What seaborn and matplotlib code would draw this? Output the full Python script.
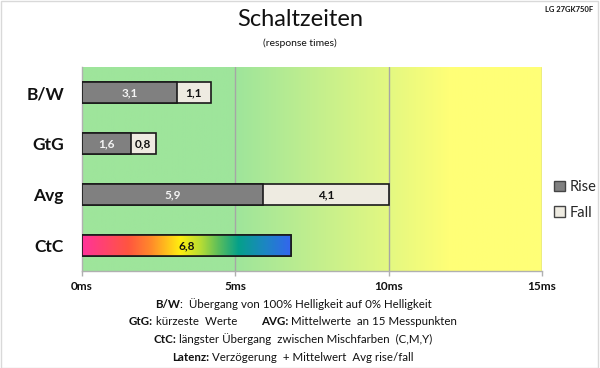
"""Response time chart (Schaltzeiten) for the LG 27GK750F."""

import matplotlib

matplotlib.use("Agg")

import matplotlib.pyplot as plt
import numpy as np
import pandas as pd
import seaborn as sns
from matplotlib.colors import LinearSegmentedColormap
from matplotlib.patches import Patch, Rectangle

categories = ["B/W", "GtG", "Avg", "CtC"]
rise = [3.1, 1.6, 5.9, 6.8]
fall = [1.1, 0.8, 4.1, 0.0]
x_ticks = [0, 5, 10, 15]
x_tick_labels = ["0ms", "5ms", "10ms", "15ms"]

RISE_COLOR = "#808080"
FALL_COLOR = "#eeebe1"
FONT = "Lato"

# (text, bold) pieces for each footer line
footer_lines = [
    [("B/W", True), (":  Übergang von 100% Helligkeit auf 0% Helligkeit", False)],
    [("GtG:", True), (" kürzeste  Werte        ", False), ("AVG:", True),
     (" Mittelwerte  an 15 Messpunkten", False)],
    [("CtC:", True), (" längster Übergang  zwischen Mischfarben  (C,M,Y)", False)],
    [("Latenz:", True), (" Verzögerung  + Mittelwert  Avg rise/fall", False)],
]


def draw_mixed_line(fig, renderer, pieces, x_center, y, size):
    texts = [fig.text(0, y, s, fontsize=size, fontweight="bold" if b else "normal",
                      va="center", ha="left", color="#111111") for s, b in pieces]
    widths = [t.get_window_extent(renderer).width for t in texts]
    x = x_center * fig.bbox.width - sum(widths) / 2
    for t, w in zip(texts, widths):
        t.set_x(x / fig.bbox.width)
        x += w


def main() -> None:
    sns.set_theme(style="white")
    plt.rcParams["font.family"] = [FONT, "DejaVu Sans"]

    df = pd.DataFrame({"cat": categories, "rise": rise, "fall": fall})
    df["total"] = df["rise"] + df["fall"]

    fig = plt.figure(figsize=(6, 3.68), dpi=100)
    ax = fig.add_axes([82 / 600, 1 - 271 / 368, 460 / 600, 204 / 368])

    sns.barplot(data=df, x="total", y="cat", color=FALL_COLOR, orient="h",
                width=0.42, edgecolor="#1a1a1a", linewidth=1.2, saturation=1,
                ax=ax, zorder=3)
    sns.barplot(data=df, x="rise", y="cat", color=RISE_COLOR, orient="h",
                width=0.42, edgecolor="#1a1a1a", linewidth=1.2, saturation=1,
                ax=ax, zorder=3)

    # background: green fading to yellow
    bg = LinearSegmentedColormap.from_list(
        "bg", [(0, "#9ee59b"), (5 / 15, "#9ee59b"), (12 / 15, "#ffff77"), (1, "#ffff77")])
    ax.imshow(np.linspace(0, 1, 512)[None, :], cmap=bg, aspect="auto",
              extent=(0, 15, 3.5, -0.5), zorder=0)

    # CtC bar gets a rainbow fill
    ctc_bar = ax.containers[1][3]
    rainbow = LinearSegmentedColormap.from_list(
        "ctc", [(0, "#ff3399"), (0.22, "#ff5540"), (0.33, "#ff8a2a"),
                (0.47, "#ffee10"), (0.57, "#b5dc35"), (0.65, "#5fbf5a"),
                (0.75, "#05a08a"), (0.87, "#1b88c0"), (1, "#3366ee")])
    img = ax.imshow(np.linspace(0, 1, 512)[None, :], cmap=rainbow, aspect="auto",
                    extent=(0, rise[3], 3.5, -0.5), zorder=3.5)
    img.set_clip_path(ctc_bar)
    ctc_bar.set_facecolor("none")
    ctc_bar.set_zorder(4)

    # value labels
    for i, (r, f) in enumerate(zip(rise, fall)):
        color = "#111111" if categories[i] == "CtC" else "#f4f4f4"
        ax.text(r / 2, i, f"{r:.1f}".replace(".", ","), ha="center", va="center",
                fontsize=8.5, fontweight="bold", color=color, zorder=5)
        if f > 0:
            ax.text(r + f / 2, i, f"{f:.1f}".replace(".", ","), ha="center",
                    va="center", fontsize=8.5, fontweight="bold", color="#111111", zorder=5)

    ax.set_xlim(0, 15)
    ax.set_ylim(3.5, -0.5)
    ax.set_xticks(x_ticks)
    ax.set_xticklabels(x_tick_labels, fontsize=8.5, fontweight="bold", color="#111111")
    for x in x_ticks[1:]:
        ax.axvline(x, color="#a6a6a6", linewidth=1, zorder=1)
    ax.set_yticks(range(len(categories)))
    ax.set_yticklabels(categories, fontsize=12.5, fontweight="bold", color="#111111")
    ax.set_yticks(np.arange(-0.5, len(categories)), minor=True)
    ax.tick_params(axis="y", which="major", length=0, pad=13)
    ax.tick_params(axis="y", which="minor", length=4.5, color="#b0b0b0", width=1)
    ax.tick_params(axis="x", which="major", length=3.5, color="#b0b0b0", width=1,
                   bottom=True, pad=4)
    ax.set_xlabel("")
    ax.set_ylabel("")
    for side in ["top", "right"]:
        ax.spines[side].set_visible(False)
    for side in ["left", "bottom"]:
        ax.spines[side].set_color("#b0b0b0")
        ax.spines[side].set_linewidth(1)

    handles = [Patch(facecolor=RISE_COLOR, edgecolor="#444444", label="Rise"),
               Patch(facecolor=FALL_COLOR, edgecolor="#444444", label="Fall")]
    fig.legend(handles=handles, loc="center left", bbox_to_anchor=(548 / 600, 1 - 200 / 368),
               frameon=False, fontsize=10.5, handlelength=0.75, handleheight=0.75,
               handletextpad=0.3, labelspacing=0.8, borderaxespad=0)

    fig.text(0.5, 1 - 20 / 368, "Schaltzeiten", ha="center", va="center",
             fontsize=17, color="#111111")
    fig.text(0.5, 1 - 43 / 368, "(response times)", ha="center", va="center",
             fontsize=7.5, color="#111111")
    fig.text(593 / 600, 1 - 9 / 368, "LG 27GK750F", ha="right", va="center",
             fontsize=5.5, fontweight="bold", color="#111111")

    renderer = fig.canvas.get_renderer()
    for k, pieces in enumerate(footer_lines):
        draw_mixed_line(fig, renderer, pieces, 293 / 600, 1 - (304 + 17.7 * k) / 368, 8.3)

    fig.patches.append(Rectangle((0.001, 0.001), 0.996, 0.997, transform=fig.transFigure,
                                 fill=False, edgecolor="#d9d9d9", linewidth=1))

    fig.savefig("out.png", dpi=100)
    plt.close(fig)


if __name__ == "__main__":
    main()
